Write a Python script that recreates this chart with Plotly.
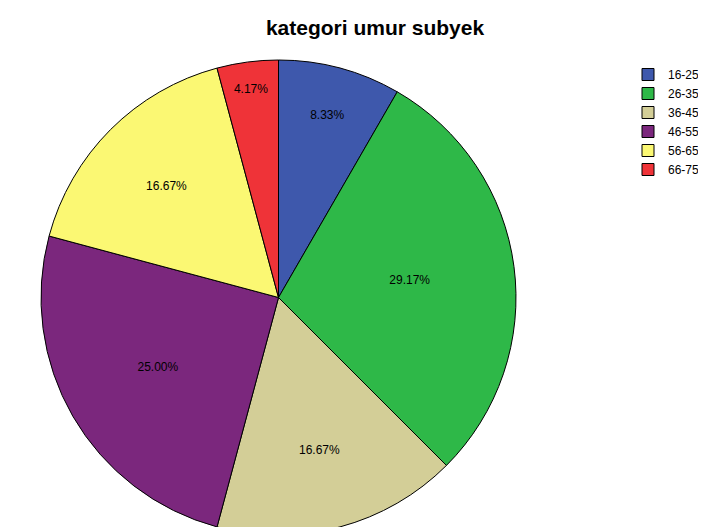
import plotly.graph_objects as go

categories = ["16-25", "26-35", "36-45", "46-55", "56-65", "66-75"]
counts = [2, 7, 4, 6, 4, 1]
colors = ["#3E58AC", "#2EB848", "#D3CE97", "#7B277D", "#FBF873", "#EF3338"]

W, H = 706, 527
top, bottom = 52, 0
radius = (H - top - bottom) / 2
cx = 270.5

fig = go.Figure(go.Pie(
    labels=categories,
    values=counts,
    sort=False,
    direction="clockwise",
    rotation=0,
    marker=dict(colors=colors, line=dict(color="#000000", width=1)),
    texttemplate="%{percent:.2%}",
    textposition="inside",
    insidetextorientation="horizontal",
    textfont=dict(family="Liberation Sans", size=12, color="#000000"),
    hoverinfo="label+percent",
    domain=dict(x=[(cx - radius) / W, (cx + radius) / W], y=[0, 1]),
))

fig.update_layout(
    width=W, height=H,
    margin=dict(l=0, r=0, t=top, b=bottom),
    paper_bgcolor="white",
    plot_bgcolor="white",
    title=dict(text="<b>kategori umur subyek</b>", x=367 / W, xanchor="center",
               y=1 - 20 / H, yanchor="middle",
               font=dict(family="Liberation Sans", size=21, color="#000000")),
    legend=dict(x=620 / W, y=1, xanchor="left", yanchor="top",
                font=dict(family="Liberation Sans", size=12, color="#000000"),
                tracegroupgap=0, bgcolor="rgba(0,0,0,0)"),
    showlegend=True,
)

fig.write_html("out.html")
